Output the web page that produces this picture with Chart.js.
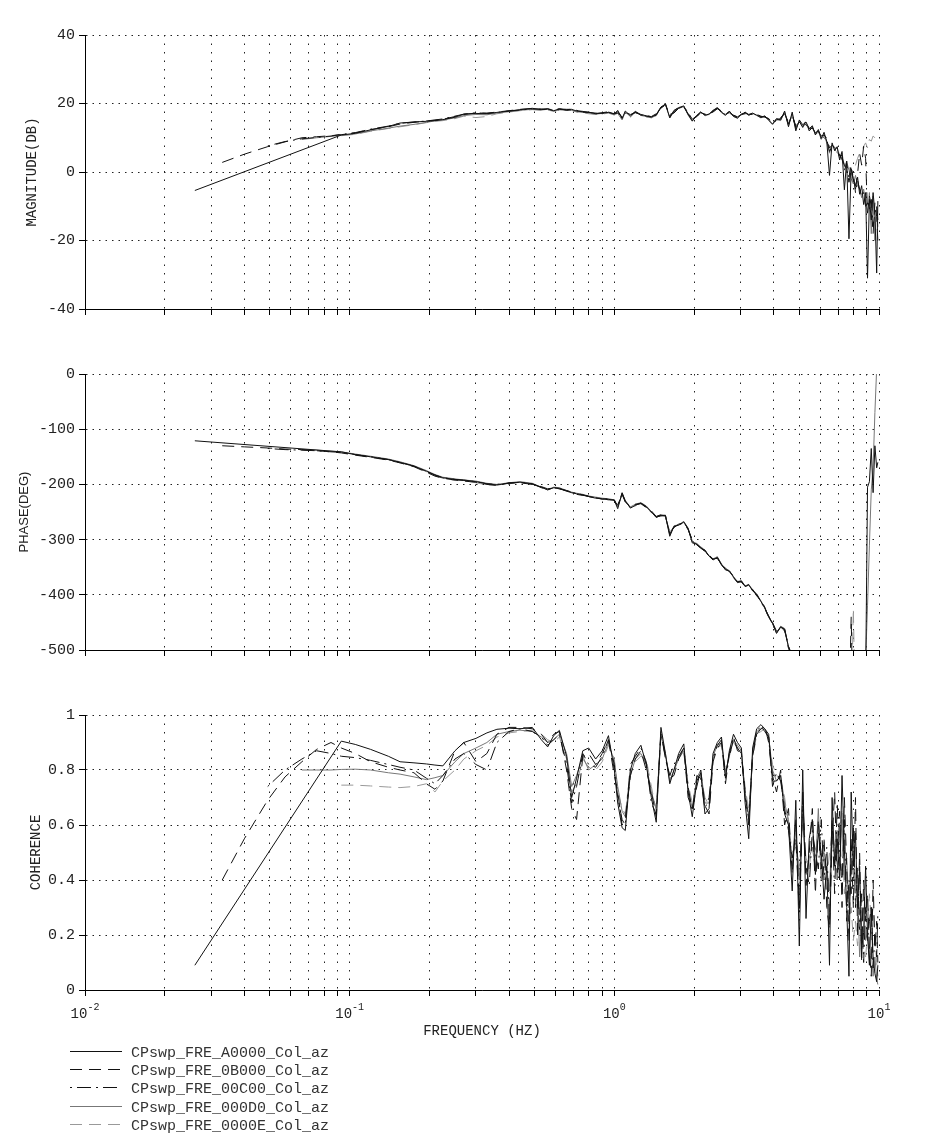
<!DOCTYPE html>
<html lang="en">
<head>
<meta charset="UTF-8">
<title>CPswp FRE frequency response</title>
<script src="https://cdn.jsdelivr.net/npm/chart.js"></script>
<style>
  body { margin: 0; background: #fff; }
  canvas { position: absolute; left: 0; }
</style>
</head>
<body>
<canvas id="magChart" width="940" height="330" style="top:0px"></canvas>
<canvas id="phaseChart" width="940" height="330" style="top:340px"></canvas>
<canvas id="cohChart" width="940" height="465" style="top:680px"></canvas>
<script>
// frequency points (Hz), shared by every run
const freq = [
  0.026, 0.033, 0.04, 0.049, 0.057, 0.066, 0.075, 0.085, 0.093, 0.105,
  0.12, 0.14, 0.155, 0.175, 0.195, 0.21, 0.225, 0.25, 0.27, 0.3,
  0.33, 0.36, 0.4, 0.44, 0.49, 0.53, 0.56, 0.59, 0.62, 0.66,
  0.69, 0.72, 0.76, 0.8, 0.85, 0.9, 0.95, 1.0, 1.03, 1.07,
  1.1, 1.15, 1.2, 1.26, 1.32, 1.38, 1.44, 1.5, 1.56, 1.62,
  1.68, 1.75, 1.83, 1.9, 1.97, 2.05, 2.12, 2.2, 2.28, 2.36,
  2.45, 2.54, 2.63, 2.72, 2.82, 2.92, 3.02, 3.12, 3.22, 3.33,
  3.45, 3.58, 3.7, 3.83, 3.96, 4.1, 4.25, 4.4, 4.55, 4.7,
  4.85, 5.0, 5.15, 5.3, 5.45, 5.6, 5.75, 5.9, 6.05, 6.2,
  6.35, 6.5, 6.65, 6.8, 6.95, 7.1, 7.25, 7.4, 7.55, 7.7,
  7.85, 8.0, 8.15, 8.3, 8.45, 8.6, 8.75, 8.9, 9.05, 9.2,
  9.35, 9.5, 9.65, 9.8, 9.9
];

const seriesNames = [
  'CPswp_FRE_A0000_Col_az',
  'CPswp_FRE_0B000_Col_az',
  'CPswp_FRE_00C00_Col_az',
  'CPswp_FRE_000D0_Col_az',
  'CPswp_FRE_0000E_Col_az'
];

// magnitude (dB)
const magA = [
  -5.4, null, null, null, null, null, null, null, 10.8, 11.3,
  12.3, 13.3, 14.3, 14.6, 14.8, 15.0, 15.3, 16.0, 16.9, 17.1,
  17.0, 17.4, 17.8, 18.2, 18.6, 18.2, 18.4, 17.9, 18.4, 18.3,
  18.3, 17.8, 17.6, 17.5, 17.0, 17.2, 17.4, 16.9, 18.0, 15.6,
  17.8, 16.4, 17.6, 16.8, 16.4, 16.0, 16.8, 19.0, 19.8, 15.8,
  18.0, 18.8, 19.3, 16.8, 14.9, 16.5, 17.5, 16.6, 16.9, 18.0,
  18.8, 17.5, 16.6, 17.8, 16.2, 15.8, 16.9, 17.3, 16.8, 17.2,
  16.6, 15.9, 16.4, 15.2, 14.0, 15.6, 15.2, 17.8, 13.2, 17.5,
  12.0, 15.2, 13.8, 14.6, 12.6, 13.5, 10.8, 12.4, 9.8, 11.6,
  8.8, -1.0, 8.5, 6.2, 7.4, 3.5, 6.0, -5.2, 3.2, -19.5,
  1.0, -2.0, -4.0, -1.5, -6.5, -4.0, -9.5, -6.0, -31.0, -8.0,
  -14.0, -6.0, -12.0, -29.5, -8.5
];
const magB = [
  null, 2.8, 5.2, 7.4, 8.8, 10.0, 10.3, 10.6, 10.9, 11.4,
  12.4, 13.2, 14.0, 14.5, 14.9, 15.1, 15.4, 16.2, 16.8, 17.2,
  17.2, 17.5, 17.9, 18.3, 18.5, 18.3, 18.5, 18.0, 18.2, 18.1,
  18.4, 17.9, 17.7, 17.3, 17.1, 17.3, 17.6, 17.1, 17.6, 16.0,
  17.4, 16.8, 17.3, 16.9, 16.3, 16.2, 17.0, 18.6, 19.9, 16.3,
  17.6, 19.0, 19.0, 17.0, 15.2, 16.2, 17.3, 16.9, 16.6, 17.8,
  18.6, 17.8, 16.8, 17.5, 16.5, 16.0, 16.6, 17.5, 16.6, 17.0,
  16.9, 16.1, 16.2, 15.5, 14.4, 15.2, 15.6, 17.2, 14.0, 16.8,
  13.0, 14.8, 13.0, 15.0, 12.0, 13.0, 11.5, 11.8, 10.5, 10.8,
  9.8, 7.0, 7.8, 7.2, 6.6, 4.8, 4.8, 0.5, 2.5, -1.5,
  2.0, -3.0, -5.0, -0.5, 5.5, 2.0, 7.5, 4.0, -12.0, -7.0,
  -10.0, -18.0, -9.0, -13.0, -20.0
];
const magC = [
  null, null, null, 7.6, 8.9, 9.7, 10.1, 10.5, 11.0, 11.5,
  12.5, 13.4, 14.2, 14.6, 14.9, 15.2, 15.5, 16.3, 16.9, 17.3,
  17.1, 17.4, 17.8, 18.1, 18.4, 18.4, 18.2, 18.1, 18.5, 18.0,
  18.2, 18.0, 17.5, 17.4, 17.2, 17.0, 17.5, 17.0, 17.2, 16.2,
  17.2, 16.6, 17.5, 16.6, 16.6, 16.1, 16.6, 18.8, 19.5, 16.8,
  17.2, 18.6, 19.1, 17.4, 15.4, 16.4, 17.1, 16.8, 17.1, 17.5,
  18.5, 17.6, 17.0, 17.4, 16.6, 16.1, 16.8, 17.0, 17.0, 16.8,
  16.8, 16.3, 16.0, 15.6, 14.5, 15.0, 15.9, 17.0, 14.5, 16.4,
  13.5, 14.5, 14.0, 13.8, 12.5, 12.8, 11.5, 12.0, 10.8, 10.0,
  9.5, 6.0, 7.5, 6.5, 6.0, 5.0, 3.8, 2.0, 1.0, -3.0,
  0.5, -1.0, -6.0, -2.5, -5.0, -7.0, -6.0, -10.0, -9.0, -11.0,
  -8.0, -16.0, -12.0, -10.0, -14.0
];
const magD = [
  null, null, null, null, null, 9.5, 10.0, 10.4, 10.7, 11.1,
  12.0, 12.8, 13.4, 13.9, 14.5, 14.9, 15.2, 15.8, 16.5, 16.8,
  16.7, 17.2, 17.6, 18.0, 18.3, 18.1, 18.3, 17.8, 18.3, 18.2,
  18.1, 17.6, 17.4, 17.2, 16.9, 17.1, 17.3, 16.8, 17.1, 15.2,
  17.5, 16.2, 17.8, 16.5, 16.2, 15.8, 16.6, 18.8, 19.6, 16.0,
  17.8, 18.6, 19.2, 16.6, 14.8, 16.6, 17.6, 16.4, 16.8, 17.9,
  18.7, 17.3, 16.5, 17.7, 16.3, 15.6, 16.8, 17.2, 16.6, 17.1,
  16.5, 15.8, 16.3, 15.0, 13.8, 15.3, 15.0, 17.5, 13.5, 17.0,
  12.5, 14.8, 13.2, 14.2, 12.8, 13.0, 11.2, 12.0, 9.5, 11.0,
  9.0, 5.5, 8.0, 6.8, 7.0, 4.0, 5.5, 1.5, 3.0, 0.5,
  -2.0, -3.5, -1.0, -4.0, -5.0, -7.5, -5.0, -9.0, -12.0, -6.0,
  -18.0, -7.0, -20.0, -10.0, -16.0
];
const magE = [
  null, null, null, null, null, null, null, null, 10.6, 11.0,
  11.9, 12.7, 13.2, 13.8, 14.4, 14.8, 15.0, 15.6, 16.3, 15.9,
  16.2, 17.0, 17.5, 17.9, 18.2, 18.0, 18.1, 17.7, 18.1, 18.0,
  18.0, 17.5, 17.3, 17.0, 16.8, 16.9, 17.2, 16.6, 17.4, 15.5,
  17.6, 16.0, 17.4, 16.7, 16.0, 16.0, 16.4, 18.5, 20.0, 15.8,
  17.5, 18.8, 19.0, 16.9, 15.0, 16.3, 17.4, 16.7, 16.9, 17.6,
  18.4, 17.6, 16.9, 17.2, 16.4, 15.9, 16.6, 17.4, 16.8, 16.9,
  16.7, 16.2, 16.1, 15.4, 14.2, 15.5, 15.4, 17.2, 14.2, 16.6,
  13.0, 14.2, 13.6, 14.0, 12.2, 13.2, 11.0, 11.6, 10.2, 10.4,
  8.5, 7.5, 7.0, 7.0, 5.5, 5.5, 3.0, 3.5, 0.0, 2.0,
  -1.0, 0.5, 2.0, 4.0, 5.5, 6.0, 7.5, 8.5, 7.0, 9.5,
  9.0, 10.5, 10.0, 11.0, 11.5
];

// phase (deg)
const phaseA = [
  -121, null, null, null, null, null, null, null, -141, -146,
  -150, -155, -160, -167, -176, -183, -188, -191, -192, -195,
  -199, -201, -198, -196, -199, -205, -210, -206, -207, -212,
  -215, -217, -219, -222, -225, -226, -227, -229, -244, -215,
  -230, -243, -238, -234, -240, -250, -260, -256, -257, -294,
  -276, -274, -268, -280, -306, -308, -315, -320, -330, -337,
  -332, -345, -355, -357, -368, -378, -375, -385, -382, -392,
  -400, -412, -424, -440, -452, -470, -458, -462, -495, -510,
  -530, -545, -560, -575, -590, -600, -615, -630, -640, -655,
  -665, -680, -690, -700, -715, -725, -735, -750, -760, -770,
  -785, -795, -805, -820, -830, -840, -850, -560, -205, -195,
  -135, -215, -130, -170, -160
];
const phaseB = [
  null, -130, -132, -134, -136, -137, -139, -141, -143, -147,
  -151, -156, -161, -168, -178, -185, -189, -192, -194, -196,
  -200, -202, -197, -197, -200, -204, -208, -207, -208, -211,
  -214, -218, -220, -221, -224, -227, -226, -230, -238, -218,
  -232, -240, -236, -235, -242, -248, -258, -255, -258, -288,
  -278, -272, -270, -282, -300, -310, -314, -322, -328, -335,
  -334, -344, -352, -358, -366, -376, -377, -384, -384, -390,
  -402, -410, -422, -442, -450, -466, -460, -465, -492, -515,
  -535, -550, -560, -580, -590, -605, -615, -630, -645, -660,
  -670, -680, -695, -705, -715, -730, -740, -750, -760, -620,
  -440, -640, -800, -820, -830, -845, -855, -870, -880, -890,
  -900, -910, -920, -930, -940
];
const phaseC = [
  null, null, null, -135, -137, -138, -139, -141, -142, -146,
  -150, -155, -160, -167, -177, -183, -188, -191, -193, -195,
  -199, -200, -198, -196, -199, -206, -209, -206, -208, -212,
  -215, -216, -219, -222, -224, -226, -228, -228, -240, -216,
  -231, -242, -237, -234, -241, -251, -259, -257, -256, -290,
  -277, -275, -268, -281, -303, -309, -316, -319, -331, -336,
  -333, -346, -354, -356, -369, -377, -376, -386, -381, -393,
  -399, -413, -425, -438, -453, -468, -459, -463, -497, -512,
  -532, -548, -562, -577, -592, -602, -617, -632, -642, -657,
  -667, -682, -692, -702, -717, -727, -737, -752, -762, -772,
  -787, -797, -807, -822, -832, -842, -852, -862, -872, -882,
  -892, -902, -912, -922, -932
];
const phaseD = [
  null, null, null, null, null, -137, -138, -140, -141, -145,
  -149, -154, -159, -166, -175, -182, -187, -190, -192, -194,
  -198, -200, -197, -195, -198, -205, -209, -205, -206, -211,
  -214, -216, -218, -221, -223, -225, -226, -228, -241, -218,
  -229, -241, -236, -233, -239, -249, -259, -255, -256, -292,
  -275, -273, -267, -279, -304, -307, -313, -319, -329, -335,
  -331, -344, -353, -356, -367, -376, -374, -384, -381, -391,
  -398, -411, -423, -439, -451, -469, -457, -461, -494, -508,
  -528, -543, -558, -573, -588, -598, -613, -628, -638, -653,
  -663, -678, -688, -698, -713, -723, -733, -748, -758, -768,
  -783, -793, -803, -818, -828, -838, -848, -520, -420, -310,
  -210, -170, -70, 10, 10
];
const phaseE = [
  null, null, null, null, null, null, null, null, -142, -146,
  -150, -155, -161, -167, -177, -184, -189, -193, -193, -197,
  -201, -201, -199, -196, -199, -206, -210, -206, -207, -212,
  -215, -217, -219, -222, -225, -226, -227, -229, -236, -220,
  -231, -240, -239, -235, -241, -251, -258, -257, -258, -286,
  -277, -274, -269, -281, -302, -309, -316, -321, -330, -337,
  -333, -345, -354, -357, -367, -377, -376, -385, -383, -392,
  -400, -412, -424, -441, -452, -469, -459, -463, -496, -512,
  -533, -547, -561, -576, -591, -601, -616, -631, -641, -656,
  -666, -681, -691, -701, -716, -726, -736, -751, -761, -776,
  -620, -425, -640, -825, -835, -845, -855, -865, -875, -885,
  -895, -905, -915, -925, -935
];

// coherence
const cohA = [
  0.09, null, null, null, null, null, null, null, 0.905, 0.893,
  0.875, 0.85, 0.83, 0.826, 0.822, 0.818, 0.815, 0.87, 0.90, 0.915,
  0.935, 0.948, 0.952, 0.95, 0.955, 0.91, 0.884, 0.925, 0.944, 0.85,
  0.70, 0.77, 0.87, 0.88, 0.84, 0.87, 0.925, 0.80, 0.68, 0.59,
  0.58, 0.80, 0.86, 0.89, 0.82, 0.70, 0.61, 0.955, 0.86, 0.75,
  0.80, 0.86, 0.895, 0.72, 0.63, 0.76, 0.79, 0.64, 0.66, 0.86,
  0.90, 0.92, 0.77, 0.87, 0.93, 0.90, 0.88, 0.68, 0.55, 0.88,
  0.95, 0.965, 0.95, 0.93, 0.76, 0.76, 0.78, 0.64, 0.60, 0.36,
  0.69, 0.16, 0.80, 0.26, 0.55, 0.62, 0.42, 0.57, 0.50, 0.33,
  0.45, 0.09, 0.70, 0.45, 0.55, 0.40, 0.78, 0.51, 0.30, 0.05,
  0.72, 0.45, 0.57, 0.30, 0.45, 0.15, 0.21, 0.45, 0.20, 0.09,
  0.30, 0.12, 0.06, 0.03, 0.09
];
const cohB = [
  null, 0.40, 0.55, 0.69, 0.775, 0.83, 0.875, 0.90, 0.88, 0.86,
  0.83, 0.81, 0.80, 0.79, 0.75, 0.73, 0.76, 0.87, 0.90, 0.83,
  0.86, 0.93, 0.955, 0.955, 0.95, 0.93, 0.90, 0.93, 0.94, 0.80,
  0.66, 0.62, 0.85, 0.86, 0.82, 0.86, 0.91, 0.78, 0.72, 0.60,
  0.62, 0.78, 0.84, 0.87, 0.80, 0.72, 0.63, 0.93, 0.85, 0.77,
  0.78, 0.84, 0.88, 0.70, 0.66, 0.74, 0.80, 0.67, 0.64, 0.83,
  0.88, 0.90, 0.79, 0.85, 0.91, 0.88, 0.86, 0.72, 0.60, 0.85,
  0.93, 0.95, 0.96, 0.90, 0.78, 0.72, 0.80, 0.60, 0.66, 0.42,
  0.62, 0.30, 0.72, 0.38, 0.50, 0.66, 0.35, 0.62, 0.44, 0.55,
  0.30, 0.22, 0.55, 0.72, 0.40, 0.65, 0.30, 0.70, 0.45, 0.18,
  0.55, 0.30, 0.70, 0.20, 0.50, 0.10, 0.40, 0.25, 0.35, 0.15,
  0.05, 0.40, 0.15, 0.25, 0.10
];
const cohC = [
  null, null, null, 0.74, 0.80, 0.84, 0.87, 0.86, 0.85, 0.845,
  0.835, 0.82, 0.81, 0.80, 0.77, 0.75, 0.78, 0.84, 0.86, 0.82,
  0.80, 0.90, 0.94, 0.95, 0.94, 0.92, 0.89, 0.91, 0.93, 0.82,
  0.68, 0.74, 0.86, 0.82, 0.81, 0.85, 0.91, 0.82, 0.70, 0.62,
  0.60, 0.82, 0.85, 0.88, 0.83, 0.68, 0.64, 0.94, 0.84, 0.78,
  0.82, 0.85, 0.88, 0.74, 0.65, 0.78, 0.77, 0.66, 0.70, 0.84,
  0.89, 0.91, 0.75, 0.86, 0.92, 0.87, 0.86, 0.70, 0.62, 0.86,
  0.94, 0.96, 0.94, 0.92, 0.74, 0.79, 0.76, 0.66, 0.58, 0.48,
  0.55, 0.28, 0.70, 0.45, 0.38, 0.58, 0.50, 0.44, 0.62, 0.40,
  0.52, 0.25, 0.62, 0.35, 0.68, 0.48, 0.40, 0.62, 0.25, 0.40,
  0.35, 0.60, 0.30, 0.45, 0.22, 0.35, 0.10, 0.30, 0.18, 0.25,
  0.30, 0.08, 0.20, 0.12, 0.28
];
const cohD = [
  null, null, null, null, null, 0.80, 0.80, 0.80, 0.802, 0.803,
  0.80, 0.79, 0.785, 0.775, 0.765, 0.772, 0.78, 0.83, 0.86, 0.88,
  0.90, 0.93, 0.94, 0.945, 0.94, 0.92, 0.90, 0.91, 0.93, 0.86,
  0.74, 0.78, 0.85, 0.80, 0.82, 0.84, 0.90, 0.83, 0.74, 0.65,
  0.63, 0.78, 0.84, 0.86, 0.82, 0.72, 0.66, 0.93, 0.86, 0.76,
  0.80, 0.84, 0.87, 0.73, 0.66, 0.77, 0.80, 0.68, 0.68, 0.85,
  0.89, 0.90, 0.78, 0.86, 0.91, 0.89, 0.87, 0.72, 0.63, 0.86,
  0.94, 0.95, 0.95, 0.92, 0.80, 0.76, 0.78, 0.68, 0.62, 0.45,
  0.58, 0.40, 0.64, 0.42, 0.48, 0.52, 0.44, 0.66, 0.40, 0.50,
  0.44, 0.36, 0.60, 0.48, 0.58, 0.45, 0.62, 0.40, 0.48, 0.30,
  0.42, 0.55, 0.40, 0.35, 0.12, 0.25, 0.30, 0.18, 0.22, 0.10,
  0.15, 0.05, 0.12, 0.04, 0.02
];
const cohE = [
  null, null, null, null, null, null, null, null, 0.745, 0.745,
  0.742, 0.738, 0.736, 0.74, 0.75, 0.72, 0.76, 0.80, 0.84, 0.87,
  0.89, 0.92, 0.935, 0.94, 0.945, 0.93, 0.91, 0.90, 0.92, 0.84,
  0.72, 0.75, 0.84, 0.81, 0.80, 0.83, 0.89, 0.84, 0.72, 0.66,
  0.64, 0.80, 0.83, 0.85, 0.84, 0.74, 0.65, 0.92, 0.85, 0.78,
  0.79, 0.85, 0.86, 0.75, 0.68, 0.76, 0.78, 0.70, 0.67, 0.84,
  0.88, 0.89, 0.80, 0.85, 0.90, 0.88, 0.85, 0.74, 0.65, 0.84,
  0.93, 0.94, 0.95, 0.91, 0.82, 0.78, 0.76, 0.70, 0.60, 0.50,
  0.52, 0.45, 0.60, 0.48, 0.44, 0.55, 0.48, 0.62, 0.46, 0.54,
  0.40, 0.50, 0.58, 0.52, 0.45, 0.56, 0.66, 0.35, 0.44, 0.24,
  0.30, 0.18, 0.25, 0.16, 0.30, 0.22, 0.14, 0.12, 0.20, 0.35,
  0.25, 0.30, 0.20, 0.10, 0.05
];

// x axis: decade ticks and the 2..9 minors between them
const decades = [0.01, 0.1, 1];
const minorSteps = [1, 2, 3, 4, 5, 6, 7, 8, 9];
const decadeTicks = [0.01, 0.1, 1, 10];
const decadeExponents = ['-2', '-1', '0', '1'];
const xTickValues = decades.flatMap(d => minorSteps.map(m => +(d * m).toPrecision(3))).concat([10]);

// line styles per run
const lineColors = ['#111', '#111', '#111', '#777', '#999'];
const lineDashes = [[], [12, 7], [2, 5, 14, 5], [], [12, 7]];

const monoFont = '"Liberation Mono", "DejaVu Sans Mono", monospace';
Chart.defaults.font.family = monoFont;
Chart.defaults.color = '#222';

function makeSets(valueLists) {
  return valueLists.map((vals, i) => ({
    label: seriesNames[i],
    data: freq.map((f, j) => ({ x: f, y: vals[j] })),
    borderColor: lineColors[i],
    borderDash: lineDashes[i],
    borderWidth: 1,
    pointRadius: 0,
    tension: 0,
    spanGaps: true,
    fill: false
  }));
}

function xScale(axisHeight, withTitle) {
  return {
    type: 'logarithmic',
    min: 0.01,
    max: 10,
    afterBuildTicks: s => { s.ticks = xTickValues.map(v => ({ value: v })); },
    afterFit: s => { s.height = axisHeight; },
    ticks: { display: false, autoSkip: false },
    grid: { color: '#222', tickColor: '#000', tickLength: 6, tickBorderDash: [] },
    border: { display: true, color: '#000', width: 1, dash: [1.5, 7] },
    title: {
      display: withTitle,
      text: 'FREQUENCY (HZ)',
      font: { size: 14, family: monoFont },
      color: '#222',
      padding: { top: 0, bottom: 0 }
    }
  };
}

function yScale(min, max, step, title, titleFont, titlePad) {
  return {
    min: min,
    max: max,
    afterFit: s => { s.width = 85; },
    ticks: {
      stepSize: step,
      font: { size: 15 },
      color: '#222',
      padding: 4,
      callback: v => String(Number(v.toFixed(2)))
    },
    grid: { color: '#222', tickColor: '#000', tickLength: 6, tickBorderDash: [] },
    border: { display: true, color: '#000', width: 1, dash: [1.5, 5] },
    title: {
      display: true,
      text: title,
      font: titleFont,
      color: '#222',
      padding: { top: titlePad, bottom: 0 }
    }
  };
}

const decadeLabels = {
  id: 'decadeLabels',
  afterDraw(chart) {
    const sx = chart.scales.x;
    const ctx = chart.ctx;
    ctx.save();
    ctx.fillStyle = '#222';
    ctx.textBaseline = 'alphabetic';
    decadeTicks.forEach((v, i) => {
      const px = sx.getPixelForValue(v);
      ctx.font = '14px ' + monoFont;
      const wb = ctx.measureText('10').width;
      ctx.font = '10px ' + monoFont;
      const we = ctx.measureText(decadeExponents[i]).width;
      const x0 = px - (wb + we) / 2;
      ctx.font = '14px ' + monoFont;
      ctx.fillText('10', x0, sx.top + 28);
      ctx.font = '10px ' + monoFont;
      ctx.fillText(decadeExponents[i], x0 + wb, sx.top + 20);
    });
    ctx.restore();
  }
};

const lineLegend = {
  id: 'lineLegend',
  afterDraw(chart) {
    const ctx = chart.ctx;
    const top = chart.scales.x.top + 60.5;
    ctx.save();
    chart.data.datasets.forEach((ds, i) => {
      const y = Math.round(top + i * 18.4) + 0.5;
      ctx.strokeStyle = ds.borderColor;
      ctx.lineWidth = 1;
      ctx.setLineDash(ds.borderDash);
      ctx.beginPath();
      ctx.moveTo(70, y);
      ctx.lineTo(122, y);
      ctx.stroke();
      ctx.setLineDash([]);
      ctx.fillStyle = '#333';
      ctx.font = '15px ' + monoFont;
      ctx.textBaseline = 'middle';
      ctx.fillText(ds.label, 131, y + 2);
    });
    ctx.restore();
  }
};

const baseOptions = (scales, padding) => ({
  responsive: false,
  animation: false,
  events: [],
  layout: { padding: padding },
  plugins: { legend: { display: false }, tooltip: { enabled: false } },
  scales: scales
});

new Chart(document.getElementById('magChart'), {
  type: 'line',
  data: { datasets: makeSets([magA, magB, magC, magD, magE]) },
  options: baseOptions({
    x: xScale(21, false),
    y: yScale(-40, 40, 20, 'MAGNITUDE(DB)', { size: 14, family: monoFont }, 24)
  }, { top: 35, right: 61, left: 0, bottom: 0 })
});

new Chart(document.getElementById('phaseChart'), {
  type: 'line',
  data: { datasets: makeSets([phaseA, phaseB, phaseC, phaseD, phaseE]) },
  options: baseOptions({
    x: xScale(20, false),
    y: yScale(-500, 0, 100, 'PHASE(DEG)', { size: 13, family: '"Liberation Sans", Arial, sans-serif' }, 17)
  }, { top: 34, right: 61, left: 0, bottom: 0 })
});

new Chart(document.getElementById('cohChart'), {
  type: 'line',
  data: { datasets: makeSets([cohA, cohB, cohC, cohD, cohE]) },
  options: baseOptions({
    x: xScale(50, true),
    y: yScale(0, 1, 0.2, 'COHERENCE', { size: 14, family: monoFont }, 28)
  }, { top: 35, right: 61, left: 0, bottom: 105 }),
  plugins: [decadeLabels, lineLegend]
});
</script>
</body>
</html>
